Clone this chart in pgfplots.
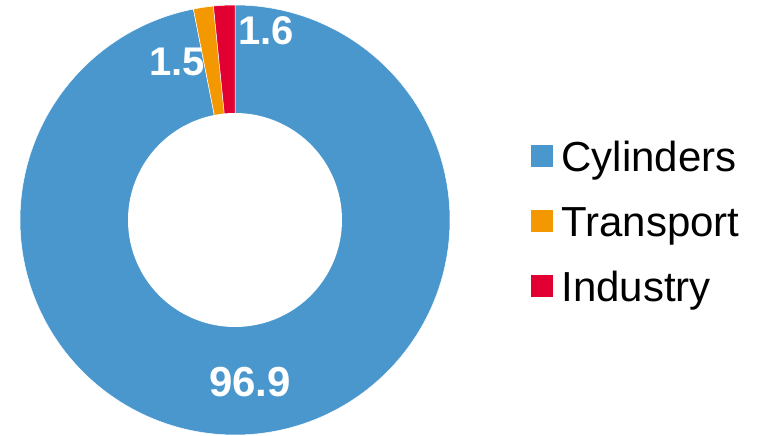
\documentclass[border=0pt]{standalone}
\usepackage{fontspec}
\setmainfont{Liberation Sans}
\usepackage{pgfplots}
\pgfplotsset{compat=1.18}
\definecolor{cyl}{RGB}{74,151,206}
\definecolor{tra}{RGB}{243,152,0}
\definecolor{ind}{RGB}{226,0,50}
% values (percent)
\def\vCyl{96.9}
\def\vTra{1.5}
\def\vInd{1.6}
\pgfmathsetmacro{\aA}{90}
\pgfmathsetmacro{\aB}{\aA-3.6*\vCyl}
\pgfmathsetmacro{\aC}{\aB-3.6*\vTra}
\pgfmathsetmacro{\aD}{\aC-3.6*\vInd}
\begin{document}
\begin{tikzpicture}
\begin{axis}[
  scale only axis, width=764pt, height=435pt,
  xmin=0, xmax=764, ymin=0, ymax=435,
  hide axis, clip=false,
  legend style={draw=none, fill=none, at={(axis cs:531,304)}, anchor=north west,
    font=\fontsize{42}{50}\selectfont,
    inner sep=0pt, nodes={inner sep=0pt, text height=40pt, text depth=25pt}},
  legend cell align=left,
  legend image code/.code={\fill[#1,draw=none] (0pt,-3pt) rectangle (22pt,19pt); \path (30pt,-3pt);},
]
\addplot[draw=none, forget plot] coordinates {(0,0) (764,435)};
\addplot[fill=cyl, draw=white, line width=0.5pt, domain=\aB:\aA, samples=300, variable=\t]
  ({235+215*cos(t)},{215+215*sin(t)}) -- (235,215) -- cycle;
\addlegendentry{Cylinders}
\addplot[fill=tra, draw=white, line width=0.5pt, domain=\aC:\aB, samples=20, variable=\t]
  ({235+215*cos(t)},{215+215*sin(t)}) -- (235,215) -- cycle;
\addlegendentry{Transport}
\addplot[fill=ind, draw=white, line width=0.5pt, domain=\aD:\aC, samples=20, variable=\t]
  ({235+215*cos(t)},{215+215*sin(t)}) -- (235,215) -- cycle;
\addlegendentry{Industry}
\addplot[fill=white, draw=none, domain=0:360, samples=200, variable=\t, forget plot]
  ({235+107*cos(t)},{215+107*sin(t)}) -- cycle;
\node[text=white, font=\fontsize{40}{48}\selectfont\bfseries] at (axis cs:266,404) {\vInd};
\node[text=white, font=\fontsize{40}{48}\selectfont\bfseries] at (axis cs:177,373) {\vTra};
\node[text=white, font=\fontsize{42}{50}\selectfont\bfseries] at (axis cs:250,52.5) {\vCyl};
\end{axis}
\end{tikzpicture}
\end{document}
